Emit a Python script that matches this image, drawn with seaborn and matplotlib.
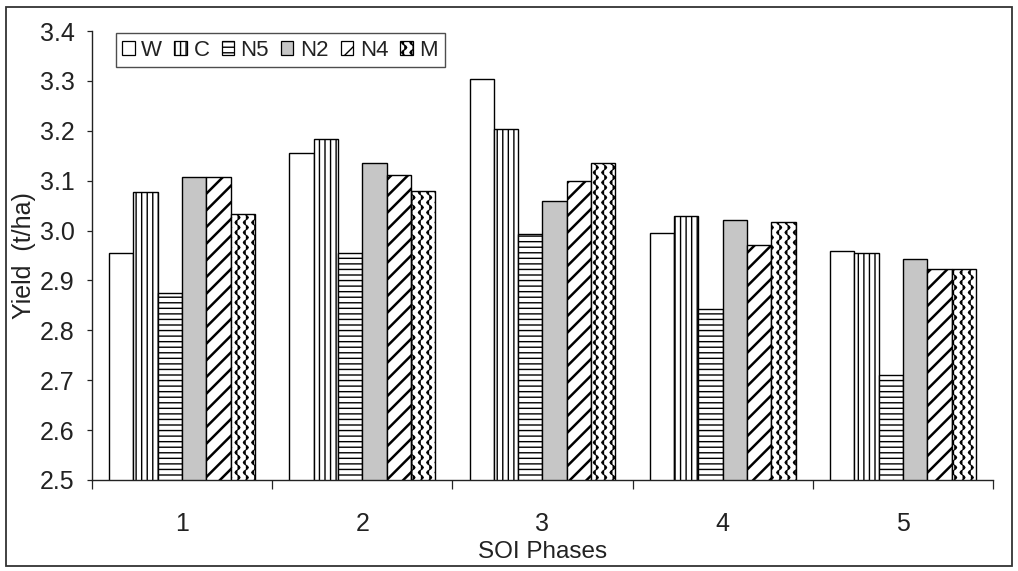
import numpy as np
import pandas as pd
import matplotlib
matplotlib.use("Agg")
import matplotlib.pyplot as plt
import matplotlib.hatch as mhatch
from matplotlib.path import Path
from matplotlib.patches import Patch, Rectangle
import seaborn as sns

# ---------------- data ----------------
phases = ["1", "2", "3", "4", "5"]
treatments = ["W", "C", "N5", "N2", "N4", "M"]
W_vals = [2.956, 3.156, 3.303, 2.996, 2.959]
C_vals = [3.077, 3.183, 3.203, 3.030, 2.955]
N5_vals = [2.875, 2.955, 2.994, 2.842, 2.711]
N2_vals = [3.108, 3.135, 3.059, 3.021, 2.942]
N4_vals = [3.108, 3.111, 3.099, 2.971, 2.923]
M_vals = [3.034, 3.080, 3.135, 3.018, 2.922]
y_ticks = [2.5, 2.6, 2.7, 2.8, 2.9, 3.0, 3.1, 3.2, 3.3, 3.4]

series = {"W": W_vals, "C": C_vals, "N5": N5_vals, "N2": N2_vals,
          "N4": N4_vals, "M": M_vals}
df = pd.DataFrame([
    {"phase": p, "treatment": t, "yield": v}
    for t in treatments for p, v in zip(phases, series[t])
])

# ---------------- custom wave hatch (replaces the 'O' hatch) ----------------
class WaveHatch(mhatch.HatchPatternBase):
    def __init__(self, hatch, density):
        self.num_cols = int(hatch.count('O') * density)
        self.periods = 10
        self.pts = 8
        if self.num_cols:
            self.k = self.periods * self.pts + 1
            self.num_vertices = self.num_cols * self.k
        else:
            self.k = 0
            self.num_vertices = 0

    def set_vertices_and_codes(self, vertices, codes):
        n = self.num_cols
        k = self.k
        t = np.linspace(0.0, 1.0, k)
        amp = 0.3 / n
        for i in range(n):
            x0 = (i + 0.5) / n
            v = vertices[i * k:(i + 1) * k]
            v[:, 0] = x0 + amp * np.sin(2 * np.pi * self.periods * t)
            v[:, 1] = t
            c = codes[i * k:(i + 1) * k]
            c[0] = Path.MOVETO
            c[1:] = Path.LINETO


_ht = mhatch._hatch_types
if mhatch.LargeCircles in _ht:
    _ht[_ht.index(mhatch.LargeCircles)] = WaveHatch

# ---------------- style ----------------
sns.set_style("ticks")
plt.rcParams["font.family"] = ["Liberation Sans", "DejaVu Sans"]
plt.rcParams["hatch.color"] = "black"
plt.rcParams["hatch.linewidth"] = 1.0

palette = {"W": "white", "C": "white", "N5": "white", "N2": "#c6c6c6",
           "N4": "white", "M": "white"}
hatches = {"W": "", "C": "|||", "N5": "---", "N2": "", "N4": "//", "M": "OO"}
hatch_lw = {"W": 1.0, "C": 1.0, "N5": 1.0, "N2": 1.0, "N4": 1.8, "M": 0.8}

fig = plt.figure(figsize=(10.18, 5.71), dpi=100)
ax = fig.add_axes([0.0904, 0.1594, 0.885, 0.7863])

sns.barplot(data=df, x="phase", y="yield", hue="treatment",
            order=phases, hue_order=treatments, palette=palette,
            width=0.81, gap=0, saturation=1, edgecolor="black",
            linewidth=1.0, errorbar=None, legend=False, ax=ax)

for t, cont in zip(treatments, ax.containers):
    for bar in cont:
        bar.set_hatch(hatches[t])
        if hasattr(bar, "set_hatch_linewidth"):
            bar.set_hatch_linewidth(hatch_lw[t])

ax.set_ylim(2.5, 3.4)
ax.set_xlim(-0.5, 4.5)
ax.set_yticks(y_ticks)
ax.set_yticklabels([f"{v:.1f}" for v in y_ticks])
ax.set_xticks(range(len(phases)))
ax.set_xticklabels(phases)
ax.set_xticks(np.arange(-0.5, len(phases), 1.0), minor=True)

ax.tick_params(axis="y", which="major", direction="out", length=3.6,
               width=0.9, pad=9, labelsize=18, colors="#222222")
ax.tick_params(axis="x", which="major", length=0, pad=23, labelsize=18,
               colors="#222222")
ax.tick_params(axis="x", which="minor", direction="out", length=6.5,
               width=0.9)

for s in ["top", "right"]:
    ax.spines[s].set_visible(False)
for s in ["left", "bottom"]:
    ax.spines[s].set_color("#222222")
    ax.spines[s].set_linewidth(1.0)

ax.set_xlabel("SOI Phases", fontsize=17.5, color="#222222", labelpad=4)
ax.set_ylabel("Yield  (t/ha)", fontsize=18, color="#222222")
ax.yaxis.set_label_coords(-0.062, 0.5)
ax.grid(False)

# legend
handles = []
for t in treatments:
    h = Patch(facecolor=palette[t], edgecolor="black", hatch=hatches[t],
              linewidth=0.9, label=t)
    if hasattr(h, "set_hatch_linewidth"):
        h.set_hatch_linewidth(hatch_lw[t] * 0.8)
    handles.append(h)
leg = ax.legend(handles=handles, loc="upper left",
                bbox_to_anchor=(0.0263, 0.9955), borderaxespad=0,
                ncol=6, fontsize=16, frameon=True, fancybox=False,
                handlelength=0.55, handleheight=0.55, handletextpad=0.3,
                columnspacing=0.55, borderpad=0.3)
leg.get_frame().set_edgecolor("#222222")
leg.get_frame().set_linewidth(1.0)
for txt in leg.get_texts():
    txt.set_color("#222222")

# outer frame around the whole chart
fig.add_artist(Rectangle((6 / 1018, 5 / 571), 1006 / 1018, 559 / 571,
                         transform=fig.transFigure, fill=False,
                         edgecolor="#333333", linewidth=1.3))

fig.savefig("out.png", dpi=100)
